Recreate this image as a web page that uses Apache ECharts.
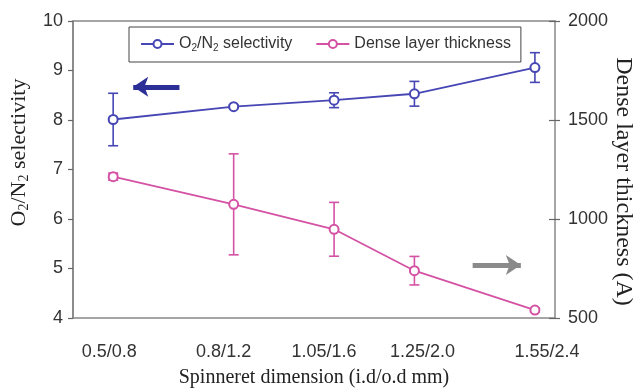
<!DOCTYPE html>
<html>
<head>
<meta charset="utf-8">
<script src="https://cdn.jsdelivr.net/npm/echarts@6/dist/echarts.min.js"></script>
<style>html,body{margin:0;padding:0;background:#fff;}#c{width:633px;height:390px;}</style>
</head>
<body>
<div id="c"></div>
<script>
// ---- data ----
const xIds = [0.5, 0.8, 1.05, 1.25, 1.55];            // spinneret i.d. (x position)
const xLabels = ['0.5/0.8', '0.8/1.2', '1.05/1.6', '1.25/2.0', '1.55/2.4'];
const xLabelPos = [0.49, 0.775, 1.025, 1.27, 1.58];     // where the labels sit in the original
const selectivity = [8.01, 8.27, 8.40, 8.53, 9.06];
const selectivityErr = [0.53, 0.03, 0.15, 0.25, 0.30];
const thickness = [1214, 1074, 948, 739, 540];
const thicknessErr = [18, 255, 136, 72, 10];
const leftTicks = [4, 5, 6, 7, 8, 9, 10];
const rightTicks = [500, 1000, 1500, 2000];

const BLUE = '#4646b4';
const PINK = '#d452a4';
const SANS = 'Liberation Sans';
const SERIF = 'Liberation Serif';

const selPts = xIds.map((x, i) => [x, selectivity[i]]);
const thkPts = xIds.map((x, i) => [x, thickness[i]]);
const selErr = xIds.map((x, i) => [x, selectivity[i] - selectivityErr[i], selectivity[i] + selectivityErr[i]]);
const thkErr = xIds.map((x, i) => [x, thickness[i] - thicknessErr[i], thickness[i] + thicknessErr[i]]);

function errRender(color) {
  return function (params, api) {
    const x = api.value(0);
    const top = api.coord([x, api.value(2)]);
    const bot = api.coord([x, api.value(1)]);
    const w = 5;
    const st = { stroke: color, lineWidth: 1.6 };
    return {
      type: 'group',
      children: [
        { type: 'line', shape: { x1: top[0], y1: top[1], x2: bot[0], y2: bot[1] }, style: st },
        { type: 'line', shape: { x1: top[0] - w, y1: top[1], x2: top[0] + w, y2: top[1] }, style: st },
        { type: 'line', shape: { x1: bot[0] - w, y1: bot[1], x2: bot[0] + w, y2: bot[1] }, style: st }
      ]
    };
  };
}

const subRich = {
  n: { fontFamily: SANS, fontSize: 16, color: '#333' },
  s: { fontFamily: SANS, fontSize: 10, color: '#333', padding: [8, 0, 0, 0] }
};

const chart = echarts.init(document.getElementById('c'), null, { renderer: 'canvas' });
chart.setOption({
  animation: false,
  backgroundColor: '#fff',
  grid: { left: 73, right: 78, top: 21, bottom: 72, containLabel: false, outerBoundsMode: 'none' },
  legend: {
    left: 129, top: 27,
    padding: [9, 10, 9, 11],
    itemGap: 23,
    itemWidth: 33, itemHeight: 10,
    borderColor: '#444', borderWidth: 1,
    data: ['O2/N2 selectivity', 'Dense layer thickness'],
    formatter: function (name) {
      if (name === 'O2/N2 selectivity') return '{n|O}{s|2}{n|/N}{s|2}{n| selectivity}';
      return '{n|' + name + '}';
    },
    textStyle: { fontFamily: SANS, fontSize: 16, color: '#333', rich: subRich }
  },
  xAxis: [{
    type: 'value', min: 0.4, max: 1.6,
    position: 'bottom',
    name: 'Spinneret dimension (i.d/o.d mm)',
    nameLocation: 'middle', nameGap: 50, nameMoveOverlap: false,
    nameTextStyle: { fontFamily: SERIF, fontSize: 20, color: '#222' },
    axisLine: { show: true, lineStyle: { color: '#888', width: 1.5 } },
    axisTick: { show: false },
    splitLine: { show: false },
    axisLabel: {
      customValues: xLabelPos,
      margin: 25,
      fontFamily: SANS, fontSize: 18, color: '#333',
      formatter: function (v) {
        let best = 0;
        for (let i = 1; i < xLabelPos.length; i++) {
          if (Math.abs(xLabelPos[i] - v) < Math.abs(xLabelPos[best] - v)) best = i;
        }
        return xLabels[best];
      }
    }
  }, {
    type: 'value', min: 0.4, max: 1.6, position: 'top',
    axisLine: { show: true, lineStyle: { color: '#888', width: 1.5 } },
    axisTick: { show: false }, axisLabel: { show: false }, splitLine: { show: false }
  }],
  yAxis: [{
    type: 'value', min: leftTicks[0], max: leftTicks[leftTicks.length - 1], interval: 1,
    position: 'left',
    name: '{n|O}{s|2}{n|/N}{s|2}{n| selectivity}',
    nameLocation: 'middle', nameGap: 42, nameMoveOverlap: false,
    nameTextStyle: {
      padding: [0, 0, 0, 34],
      rich: {
        n: { fontFamily: SERIF, fontSize: 22, color: '#222' },
        s: { fontFamily: SERIF, fontSize: 14, color: '#222', padding: [10, 0, 0, 0] }
      }
    },
    axisLine: { show: true, lineStyle: { color: '#666', width: 1.5 } },
    axisTick: { show: true, length: 5, lineStyle: { color: '#666', width: 1.2 } },
    splitLine: { show: false },
    axisLabel: { margin: 10, fontFamily: SANS, fontSize: 18, color: '#333' }
  }, {
    type: 'value', min: rightTicks[0], max: rightTicks[rightTicks.length - 1], interval: 500,
    position: 'right',
    name: 'Dense layer thickness (A)',
    nameLocation: 'middle', nameGap: 56, nameRotate: -90, nameMoveOverlap: false,
    nameTextStyle: { fontFamily: SERIF, fontSize: 24, color: '#222', padding: [0, 0, 0, 24] },
    axisLine: { show: true, lineStyle: { color: '#888', width: 1.5 } },
    axisTick: { show: true, length: 5, lineStyle: { color: '#666', width: 1.2 } },
    splitLine: { show: false },
    axisLabel: { margin: 13, fontFamily: SANS, fontSize: 18, color: '#333', formatter: function (v) { return String(v); } }
  }, {
    type: 'value', min: rightTicks[0], max: rightTicks[rightTicks.length - 1], interval: 500,
    position: 'right',
    axisLine: { show: false },
    axisTick: { show: true, inside: true, length: 6, lineStyle: { color: '#666', width: 1.2 } },
    axisLabel: { show: false }, splitLine: { show: false }
  }],
  series: [{
    name: 'O2/N2 selectivity',
    type: 'line', xAxisIndex: 0, yAxisIndex: 0,
    data: selPts,
    symbol: 'emptyCircle', symbolSize: 9,
    lineStyle: { color: BLUE, width: 1.8 },
    itemStyle: { color: BLUE, borderColor: BLUE, borderWidth: 2 },
    z: 3,
    markLine: {
      silent: true, animation: false,
      symbol: ['arrow', 'none'], symbolSize: [15, 15],
      label: { show: false },
      lineStyle: { color: '#2c2f96', width: 5, type: 'solid' },
      data: [[{ coord: [0.55, 8.67] }, { coord: [0.665, 8.67] }]]
    }
  }, {
    name: 'Dense layer thickness',
    type: 'line', xAxisIndex: 0, yAxisIndex: 1,
    data: thkPts,
    symbol: 'emptyCircle', symbolSize: 9,
    lineStyle: { color: PINK, width: 1.8 },
    itemStyle: { color: PINK, borderColor: PINK, borderWidth: 2 },
    z: 3,
    markLine: {
      silent: true, animation: false,
      symbol: ['none', 'arrow'], symbolSize: [15, 15],
      label: { show: false },
      lineStyle: { color: '#8a8a8a', width: 5, type: 'solid' },
      data: [[{ coord: [1.395, 768] }, { coord: [1.515, 768] }]]
    }
  }, {
    type: 'custom', xAxisIndex: 0, yAxisIndex: 0,
    data: selErr, encode: { x: 0, y: [1, 2] },
    renderItem: errRender(BLUE), z: 2, silent: true
  }, {
    type: 'custom', xAxisIndex: 0, yAxisIndex: 1,
    data: thkErr, encode: { x: 0, y: [1, 2] },
    renderItem: errRender(PINK), z: 2, silent: true
  }]
});
</script>
</body>
</html>
